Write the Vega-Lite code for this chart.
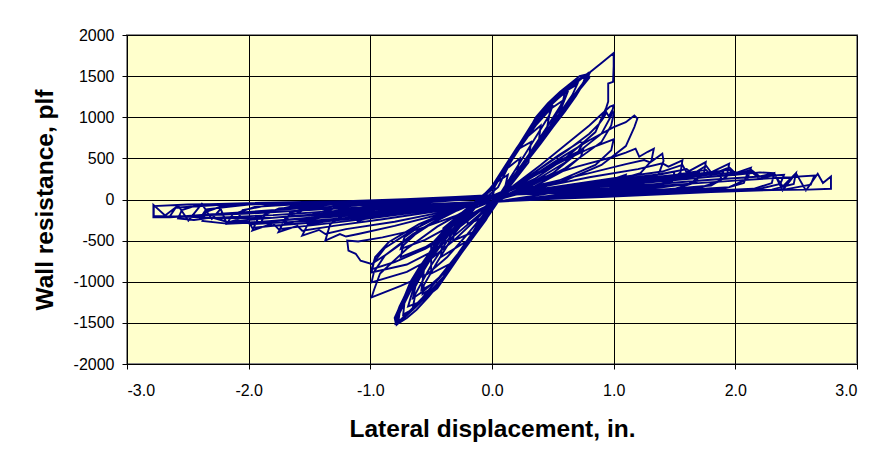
{
"$schema": "https://vega.github.io/schema/vega-lite/v6.json",
"width": 730, "height": 329,
"autosize": {"type": "none"},
"padding": {"left": 127, "top": 35, "right": 24, "bottom": 103},
"background": "white",
"config": {"view": {"fill": "#FFFFCC", "stroke": "#8c8c8c", "strokeWidth": 2}, "font": "Liberation Sans"},
"data": {"values": [
{"d":0,"w":0},
{"d":0.03,"w":200},{"d":0.13,"w":300},{"d":0.1,"w":100},{"d":0.03,"w":-20},{"d":-0.04,"w":-200},{"d":-0.2,"w":-300},{"d":-0.2,"w":-150},{"d":-0.08,"w":10},
{"d":0.1,"w":350},{"d":0.23,"w":500},{"d":0.2,"w":300},{"d":0.08,"w":60},{"d":-0.02,"w":-60},{"d":-0.16,"w":-400},{"d":-0.32,"w":-500},{"d":-0.3,"w":-250},{"d":-0.1,"w":0},
{"d":0.02,"w":150},{"d":0.2,"w":600},{"d":0.32,"w":700},{"d":0.3,"w":450},{"d":0.12,"w":110},{"d":0,"w":-40},{"d":-0.2,"w":-500},{"d":-0.42,"w":-700},{"d":-0.4,"w":-350},{"d":-0.15,"w":-40},
{"d":0.03,"w":180},{"d":0.24,"w":700},{"d":0.4,"w":900},{"d":0.38,"w":650},{"d":0.2,"w":300},{"d":0.05,"w":10},{"d":-0.05,"w":-250},{"d":-0.3,"w":-750},{"d":-0.5,"w":-900},{"d":-0.5,"w":-550},{"d":-0.3,"w":-220},{"d":-0.1,"w":0},
{"d":0.02,"w":170},{"d":0.2,"w":600},{"d":0.38,"w":1000},{"d":0.48,"w":1100},{"d":0.45,"w":850},{"d":0.28,"w":450},{"d":0.08,"w":40},{"d":-0.03,"w":-200},{"d":-0.28,"w":-700},{"d":-0.46,"w":-1000},{"d":-0.58,"w":-1100},{"d":-0.55,"w":-750},{"d":-0.36,"w":-350},{"d":-0.12,"w":-10},
{"d":0.03,"w":180},{"d":0.22,"w":650},{"d":0.4,"w":1060},{"d":0.53,"w":1240},{"d":0.62,"w":1300},{"d":0.54,"w":1000},{"d":0.32,"w":550},{"d":0.07,"w":30},{"d":-0.02,"w":-150},{"d":-0.25,"w":-650},{"d":-0.45,"w":-1080},{"d":-0.6,"w":-1250},{"d":-0.69,"w":-1300},{"d":-0.62,"w":-950},{"d":-0.45,"w":-550},{"d":-0.2,"w":-100},{"d":-0.08,"w":20},
{"d":0.02,"w":200},{"d":0.2,"w":600},{"d":0.38,"w":1020},{"d":0.6,"w":1300},{"d":0.76,"w":1500},{"d":0.8,"w":1530},{"d":0.74,"w":1400},{"d":0.6,"w":1120},{"d":0.42,"w":780},{"d":0.2,"w":330},{"d":0.04,"w":0},{"d":-0.05,"w":-220},{"d":-0.25,"w":-620},{"d":-0.45,"w":-1050},{"d":-0.62,"w":-1300},{"d":-0.78,"w":-1516},{"d":-0.77,"w":-1400},{"d":-0.7,"w":-1130},{"d":-0.55,"w":-750},{"d":-0.35,"w":-330},{"d":-0.1,"w":0},
{"d":0,"w":150},{"d":0.18,"w":560},{"d":0.4,"w":1050},{"d":0.62,"w":1330},{"d":0.78,"w":1525},{"d":0.76,"w":1440},{"d":0.64,"w":1200},{"d":0.46,"w":860},{"d":0.26,"w":450},{"d":0.06,"w":40},{"d":-0.03,"w":-180},{"d":-0.2,"w":-520},{"d":-0.42,"w":-1000},{"d":-0.6,"w":-1260},{"d":-0.77,"w":-1505},{"d":-0.78,"w":-1430},{"d":-0.68,"w":-1050},{"d":-0.5,"w":-650},{"d":-0.3,"w":-280},{"d":-0.08,"w":20},
{"d":0.01,"w":170},{"d":0.22,"w":640},{"d":0.42,"w":1060},{"d":0.64,"w":1360},{"d":0.79,"w":1535},{"d":0.8,"w":1480},{"d":0.7,"w":1300},{"d":0.5,"w":930},{"d":0.3,"w":520},{"d":0.08,"w":60},{"d":-0.04,"w":-200},{"d":-0.22,"w":-560},{"d":-0.44,"w":-1030},{"d":-0.65,"w":-1340},{"d":-0.79,"w":-1510},{"d":-0.8,"w":-1440},{"d":-0.72,"w":-1180},{"d":-0.58,"w":-820},{"d":-0.4,"w":-430},{"d":-0.15,"w":-40},
{"d":0.02,"w":160},{"d":0.15,"w":450},{"d":0.3,"w":800},{"d":0.45,"w":1080},{"d":0.5,"w":1150},{"d":0.47,"w":1020},{"d":0.36,"w":760},{"d":0.2,"w":380},{"d":0.05,"w":30},{"d":-0.05,"w":-200},{"d":-0.2,"w":-520},{"d":-0.38,"w":-860},{"d":-0.52,"w":-1100},{"d":-0.57,"w":-1150},{"d":-0.56,"w":-1040},{"d":-0.45,"w":-760},{"d":-0.3,"w":-400},{"d":-0.1,"w":-30},
{"d":0,"w":140},{"d":0.16,"w":520},{"d":0.33,"w":920},{"d":0.5,"w":1210},{"d":0.66,"w":1400},{"d":0.77,"w":1510},{"d":0.75,"w":1420},{"d":0.66,"w":1230},{"d":0.52,"w":960},{"d":0.34,"w":600},{"d":0.15,"w":200},{"d":0.03,"w":-10},{"d":-0.06,"w":-230},{"d":-0.24,"w":-600},{"d":-0.4,"w":-940},{"d":-0.56,"w":-1200},{"d":-0.7,"w":-1390},{"d":-0.77,"w":-1490},{"d":-0.76,"w":-1380},{"d":-0.66,"w":-1080},{"d":-0.52,"w":-760},{"d":-0.33,"w":-380},{"d":-0.12,"w":-30},
{"d":0.01,"w":150},{"d":0.18,"w":560},{"d":0.34,"w":930},{"d":0.5,"w":1180},{"d":0.6,"w":1300},{"d":0.58,"w":1180},{"d":0.46,"w":900},{"d":0.3,"w":540},{"d":0.1,"w":120},{"d":-0.02,"w":-120},{"d":-0.2,"w":-540},{"d":-0.38,"w":-930},{"d":-0.54,"w":-1180},{"d":-0.65,"w":-1310},{"d":-0.63,"w":-1150},{"d":-0.5,"w":-800},{"d":-0.33,"w":-420},{"d":-0.12,"w":-40},
{"d":0.02,"w":180},{"d":0.2,"w":610},{"d":0.36,"w":980},{"d":0.54,"w":1260},{"d":0.7,"w":1450},{"d":0.79,"w":1520},{"d":0.72,"w":1340},{"d":0.58,"w":1060},{"d":0.4,"w":700},{"d":0.22,"w":340},{"d":0.06,"w":40},{"d":-0.04,"w":-190},{"d":-0.22,"w":-580},{"d":-0.42,"w":-990},{"d":-0.6,"w":-1270},{"d":-0.74,"w":-1450},{"d":-0.79,"w":-1500},{"d":-0.74,"w":-1280},{"d":-0.6,"w":-920},{"d":-0.42,"w":-540},{"d":-0.2,"w":-150},{"d":-0.06,"w":10},
{"d":0.05,"w":150},{"d":0.16,"w":480},{"d":0.28,"w":780},{"d":0.36,"w":1000},{"d":0.46,"w":1170},{"d":0.56,"w":1310},{"d":0.66,"w":1430},{"d":0.72,"w":1500},{"d":0.8,"w":1530},{"d":0.74,"w":1380},{"d":0.68,"w":1250},{"d":0.6,"w":1110},{"d":0.54,"w":1000},{"d":0.46,"w":840},{"d":0.38,"w":660},{"d":0.3,"w":500},{"d":0.2,"w":300},{"d":0.12,"w":130},{"d":0.05,"w":0},{"d":-0.02,"w":-120},{"d":-0.1,"w":-300},{"d":-0.2,"w":-500},{"d":-0.3,"w":-720},{"d":-0.42,"w":-1000},{"d":-0.52,"w":-1180},{"d":-0.62,"w":-1340},{"d":-0.7,"w":-1440},{"d":-0.78,"w":-1516},{"d":-0.79,"w":-1420},{"d":-0.76,"w":-1300},{"d":-0.72,"w":-1180},{"d":-0.67,"w":-1000},{"d":-0.6,"w":-830},{"d":-0.53,"w":-680},{"d":-0.45,"w":-500},{"d":-0.34,"w":-300},{"d":-0.22,"w":-140},{"d":-0.1,"w":0},
{"d":0.02,"w":180},{"d":0.14,"w":420},{"d":0.26,"w":720},{"d":0.38,"w":990},{"d":0.5,"w":1180},{"d":0.62,"w":1330},{"d":0.7,"w":1400},{"d":0.66,"w":1270},{"d":0.58,"w":1100},{"d":0.5,"w":930},{"d":0.4,"w":720},{"d":0.3,"w":520},{"d":0.18,"w":280},{"d":0.07,"w":60},{"d":0,"w":-80},{"d":-0.12,"w":-360},{"d":-0.26,"w":-660},{"d":-0.4,"w":-950},{"d":-0.54,"w":-1180},{"d":-0.66,"w":-1340},{"d":-0.73,"w":-1400},{"d":-0.72,"w":-1260},{"d":-0.66,"w":-1060},{"d":-0.58,"w":-850},{"d":-0.5,"w":-640},{"d":-0.4,"w":-420},{"d":-0.28,"w":-220},{"d":-0.14,"w":-50},
{"d":0,"w":120},{"d":0.12,"w":380},{"d":0.24,"w":650},{"d":0.36,"w":900},{"d":0.48,"w":1100},{"d":0.58,"w":1200},{"d":0.55,"w":1090},{"d":0.48,"w":900},{"d":0.4,"w":710},{"d":0.3,"w":500},{"d":0.18,"w":270},{"d":0.06,"w":40},{"d":-0.02,"w":-110},{"d":-0.14,"w":-380},{"d":-0.28,"w":-680},{"d":-0.42,"w":-930},{"d":-0.56,"w":-1110},{"d":-0.65,"w":-1200},{"d":-0.63,"w":-1060},{"d":-0.56,"w":-860},{"d":-0.47,"w":-640},{"d":-0.36,"w":-420},{"d":-0.22,"w":-190},{"d":-0.1,"w":-20},
{"d":0.03,"w":200},{"d":0.15,"w":470},{"d":0.27,"w":760},{"d":0.4,"w":1020},{"d":0.52,"w":1220},{"d":0.64,"w":1390},{"d":0.74,"w":1490},{"d":0.78,"w":1525},{"d":0.76,"w":1430},{"d":0.69,"w":1260},{"d":0.6,"w":1070},{"d":0.5,"w":880},{"d":0.4,"w":680},{"d":0.28,"w":450},{"d":0.15,"w":220},{"d":0.04,"w":20},{"d":-0.04,"w":-160},{"d":-0.15,"w":-380},{"d":-0.28,"w":-660},{"d":-0.44,"w":-960},{"d":-0.58,"w":-1210},{"d":-0.7,"w":-1390},{"d":-0.78,"w":-1500},{"d":-0.77,"w":-1380},{"d":-0.72,"w":-1200},{"d":-0.64,"w":-980},{"d":-0.55,"w":-740},{"d":-0.44,"w":-500},{"d":-0.3,"w":-260},{"d":-0.15,"w":-70},
{"d":0,"w":160},{"d":0.2,"w":620},{"d":0.4,"w":1040},{"d":0.62,"w":1340},{"d":0.8,"w":1540},{"d":0.9,"w":1660},{"d":1,"w":1780},{"d":1,"w":1620},{"d":0.995,"w":1430},{"d":0.955,"w":1410},{"d":0.955,"w":1190},{"d":0.94,"w":1120},{"d":0.85,"w":820},{"d":0.6,"w":500},{"d":0.35,"w":250},{"d":0.15,"w":110},{"d":0.03,"w":0},
{"d":-0.04,"w":-134},{"d":-0.2,"w":-419},{"d":-0.37,"w":-703},{"d":-0.53,"w":-906},{"d":-0.75,"w":-1049},{"d":-0.99,"w":-1191},{"d":-0.97,"w":-1100},{"d":-0.92,"w":-900},{"d":-0.7,"w":-600},{"d":-0.45,"w":-330},{"d":-0.2,"w":-120},{"d":0.02,"w":30},
{"d":0.17,"w":160},{"d":0.4,"w":420},{"d":0.6,"w":660},{"d":0.8,"w":900},{"d":0.9,"w":1037},{"d":0.97,"w":1130},{"d":1,"w":1146},{"d":0.98,"w":1020},{"d":0.9,"w":800},{"d":0.6,"w":450},{"d":0.3,"w":180},{"d":0.12,"w":60},{"d":0,"w":-20},
{"d":-0.1,"w":-200},{"d":-0.3,"w":-480},{"d":-0.5,"w":-720},{"d":-0.7,"w":-880},{"d":-0.99,"w":-1008},{"d":-0.97,"w":-880},{"d":-0.88,"w":-680},{"d":-0.65,"w":-420},{"d":-0.4,"w":-200},{"d":-0.15,"w":-50},{"d":0.03,"w":20},
{"d":0.15,"w":120},{"d":0.35,"w":330},{"d":0.55,"w":540},{"d":0.72,"w":700},{"d":0.75,"w":690},{"d":0.7,"w":560},{"d":0.5,"w":320},{"d":0.25,"w":120},{"d":0.02,"w":-20},{"d":-0.15,"w":-180},{"d":-0.35,"w":-400},{"d":-0.55,"w":-580},{"d":-0.75,"w":-700},{"d":-0.73,"w":-560},{"d":-0.6,"w":-380},{"d":-0.35,"w":-170},{"d":-0.1,"w":-20},
{"d":0.17,"w":150},{"d":0.4,"w":380},{"d":0.62,"w":600},{"d":0.8,"w":800},{"d":0.88,"w":920},{"d":0.92,"w":1000},{"d":0.94,"w":1060},{"d":0.96,"w":1010},{"d":0.99,"w":1090},{"d":1,"w":1040},{"d":0.98,"w":900},{"d":0.9,"w":700},{"d":0.6,"w":380},{"d":0.3,"w":150},{"d":0.1,"w":40},{"d":-0.02,"w":-30},
{"d":-0.1,"w":-180},{"d":-0.3,"w":-430},{"d":-0.5,"w":-640},{"d":-0.7,"w":-790},{"d":-0.99,"w":-886},{"d":-0.97,"w":-760},{"d":-0.88,"w":-590},{"d":-0.65,"w":-370},{"d":-0.4,"w":-180},{"d":-0.15,"w":-40},{"d":0.03,"w":20},
{"d":0.15,"w":110},{"d":0.35,"w":290},{"d":0.55,"w":470},{"d":0.75,"w":610},{"d":0.73,"w":520},{"d":0.6,"w":360},{"d":0.35,"w":160},{"d":0.1,"w":20},{"d":-0.1,"w":-120},{"d":-0.35,"w":-330},{"d":-0.55,"w":-490},{"d":-0.75,"w":-600},{"d":-0.72,"w":-460},{"d":-0.55,"w":-280},{"d":-0.3,"w":-110},{"d":-0.05,"w":10},
{"d":0.17,"w":140},{"d":0.4,"w":330},{"d":0.6,"w":480},{"d":0.8,"w":620},{"d":1,"w":732},{"d":0.98,"w":600},{"d":0.85,"w":420},{"d":0.55,"w":230},{"d":0.25,"w":90},{"d":0,"w":-20},
{"d":-0.15,"w":-200},{"d":-0.35,"w":-430},{"d":-0.55,"w":-600},{"d":-0.8,"w":-760},{"d":-0.99,"w":-850},{"d":-0.96,"w":-700},{"d":-0.85,"w":-520},{"d":-0.6,"w":-300},{"d":-0.3,"w":-110},{"d":0,"w":20},
{"d":0.17,"w":150},{"d":0.4,"w":350},{"d":0.6,"w":540},{"d":0.8,"w":720},{"d":1,"w":880},{"d":1.1,"w":940},{"d":1.17,"w":1020},{"d":1.195,"w":984},{"d":1.17,"w":880},{"d":1.1,"w":650},{"d":0.9,"w":420},{"d":0.6,"w":230},{"d":0.3,"w":100},{"d":0,"w":-20},
{"d":-0.3,"w":-200},{"d":-0.6,"w":-360},{"d":-0.9,"w":-460},{"d":-1.1,"w":-510},{"d":-1.19,"w":-500},{"d":-1.18,"w":-622},{"d":-1.12,"w":-660},{"d":-1.08,"w":-744},{"d":-0.99,"w":-784},{"d":-0.863,"w":-662},{"d":-0.67,"w":-460},{"d":-0.479,"w":-277},{"d":-0.286,"w":-134},{"d":-0.095,"w":-12},{"d":0.05,"w":40},
{"d":0.3,"w":80},{"d":0.7,"w":170},{"d":1,"w":250},{"d":1.1,"w":300},{"d":1.08,"w":190},{"d":0.9,"w":110},{"d":0.5,"w":40},{"d":0.1,"w":-20},{"d":-0.3,"w":-80},{"d":-0.7,"w":-150},{"d":-1,"w":-220},{"d":-1.1,"w":-260},{"d":-1.05,"w":-150},{"d":-0.8,"w":-70},{"d":-0.4,"w":-20},{"d":0,"w":20},
{"d":0.17,"w":120},{"d":0.4,"w":260},{"d":0.7,"w":400},{"d":1,"w":520},{"d":1.1,"w":570},{"d":1.18,"w":618},{"d":1.21,"w":520},{"d":1.28,"w":580},{"d":1.33,"w":618},{"d":1.31,"w":470},{"d":1.22,"w":320},{"d":0.9,"w":180},{"d":0.5,"w":80},{"d":0.1,"w":-10},{"d":-0.1,"w":-40},
{"d":-0.4,"w":-170},{"d":-0.8,"w":-320},{"d":-1.1,"w":-420},{"d":-1.2,"w":-450},{"d":-1.25,"w":-420},{"d":-1.37,"w":-500},{"d":-1.33,"w":-300},{"d":-1.2,"w":-170},{"d":-0.9,"w":-90},{"d":-0.5,"w":-30},{"d":-0.1,"w":10},{"d":0.1,"w":40},
{"d":0.4,"w":180},{"d":0.8,"w":320},{"d":1.1,"w":430},{"d":1.25,"w":480},{"d":1.3,"w":450},{"d":1.4,"w":557},{"d":1.41,"w":470},{"d":1.37,"w":310},{"d":1.25,"w":200},{"d":0.9,"w":120},{"d":0.5,"w":50},{"d":0.1,"w":-20},{"d":-0.1,"w":-50},
{"d":-0.4,"w":-150},{"d":-0.8,"w":-270},{"d":-1.2,"w":-360},{"d":-1.37,"w":-420},{"d":-1.42,"w":-370},{"d":-1.56,"w":-439},{"d":-1.5,"w":-260},{"d":-1.35,"w":-150},{"d":-1,"w":-80},{"d":-0.6,"w":-30},{"d":-0.2,"w":10},{"d":0.1,"w":40},
{"d":0.4,"w":100},{"d":0.8,"w":180},{"d":1.2,"w":260},{"d":1.5,"w":340},{"d":1.48,"w":220},{"d":1.3,"w":140},{"d":0.9,"w":90},{"d":0.4,"w":20},{"d":0,"w":-30},{"d":-0.4,"w":-90},{"d":-0.8,"w":-160},{"d":-1.2,"w":-230},{"d":-1.5,"w":-300},{"d":-1.47,"w":-180},{"d":-1.25,"w":-90},{"d":-0.8,"w":-40},{"d":-0.3,"w":0},{"d":0,"w":30},
{"d":0.4,"w":150},{"d":0.8,"w":270},{"d":1.2,"w":370},{"d":1.4,"w":440},{"d":1.45,"w":400},{"d":1.565,"w":476},{"d":1.55,"w":330},{"d":1.45,"w":210},{"d":1.2,"w":140},{"d":0.8,"w":80},{"d":0.4,"w":30},{"d":0,"w":-30},
{"d":-0.4,"w":-130},{"d":-0.9,"w":-240},{"d":-1.3,"w":-320},{"d":-1.56,"w":-380},{"d":-1.6,"w":-320},{"d":-1.755,"w":-398},{"d":-1.7,"w":-230},{"d":-1.55,"w":-130},{"d":-1.2,"w":-70},{"d":-0.8,"w":-30},{"d":-0.3,"w":10},{"d":0.1,"w":50},
{"d":0.4,"w":90},{"d":0.9,"w":170},{"d":1.3,"w":240},{"d":1.7,"w":330},{"d":1.68,"w":210},{"d":1.5,"w":130},{"d":1,"w":80},{"d":0.5,"w":20},{"d":0,"w":-30},{"d":-0.5,"w":-90},{"d":-1,"w":-160},{"d":-1.4,"w":-220},{"d":-1.7,"w":-290},{"d":-1.66,"w":-160},{"d":-1.4,"w":-70},{"d":-0.9,"w":-30},{"d":-0.3,"w":10},{"d":0,"w":40},
{"d":0.5,"w":150},{"d":1,"w":260},{"d":1.4,"w":340},{"d":1.565,"w":420},{"d":1.6,"w":330},{"d":1.757,"w":455},{"d":1.74,"w":300},{"d":1.62,"w":190},{"d":1.3,"w":130},{"d":0.9,"w":90},{"d":0.4,"w":30},{"d":0,"w":-30},
{"d":-0.5,"w":-130},{"d":-1,"w":-230},{"d":-1.4,"w":-300},{"d":-1.755,"w":-360},{"d":-1.8,"w":-290},{"d":-1.97,"w":-378},{"d":-1.92,"w":-220},{"d":-1.75,"w":-110},{"d":-1.3,"w":-60},{"d":-0.8,"w":-20},{"d":-0.3,"w":20},{"d":0.1,"w":50},
{"d":0.5,"w":100},{"d":1,"w":180},{"d":1.5,"w":260},{"d":1.9,"w":340},{"d":1.87,"w":220},{"d":1.7,"w":140},{"d":1.2,"w":90},{"d":0.6,"w":30},{"d":0,"w":-20},{"d":-0.5,"w":-80},{"d":-1,"w":-150},{"d":-1.5,"w":-220},{"d":-1.9,"w":-280},{"d":-1.85,"w":-150},{"d":-1.6,"w":-70},{"d":-1,"w":-30},{"d":-0.4,"w":10},{"d":0,"w":40},
{"d":0.5,"w":140},{"d":1,"w":240},{"d":1.4,"w":310},{"d":1.6,"w":370},{"d":1.65,"w":310},{"d":1.76,"w":410},{"d":1.8,"w":330},{"d":1.949,"w":435},{"d":1.93,"w":280},{"d":1.8,"w":170},{"d":1.4,"w":120},{"d":0.9,"w":80},{"d":0.4,"w":20},{"d":0,"w":-30},
{"d":-0.5,"w":-120},{"d":-1,"w":-210},{"d":-1.4,"w":-270},{"d":-1.8,"w":-320},{"d":-1.97,"w":-345},{"d":-2,"w":-270},{"d":-2.18,"w":-296},{"d":-2.13,"w":-180},{"d":-1.95,"w":-90},{"d":-1.5,"w":-50},{"d":-0.9,"w":-10},{"d":-0.3,"w":30},{"d":0.1,"w":60},
{"d":0.5,"w":90},{"d":1,"w":170},{"d":1.6,"w":250},{"d":2.1,"w":320},{"d":2.07,"w":200},{"d":1.9,"w":130},{"d":1.4,"w":90},{"d":0.7,"w":30},{"d":0,"w":-20},{"d":-0.6,"w":-80},{"d":-1.2,"w":-150},{"d":-1.7,"w":-210},{"d":-2.1,"w":-260},{"d":-2.05,"w":-130},{"d":-1.8,"w":-60},{"d":-1.1,"w":-30},{"d":-0.4,"w":10},{"d":0,"w":40},
{"d":0.5,"w":130},{"d":1,"w":220},{"d":1.5,"w":300},{"d":1.76,"w":360},{"d":1.8,"w":300},{"d":1.95,"w":390},{"d":2,"w":320},{"d":2.128,"w":387},{"d":2.1,"w":250},{"d":1.95,"w":150},{"d":1.5,"w":110},{"d":0.9,"w":70},{"d":0.4,"w":15},{"d":0,"w":-30},
{"d":-0.5,"w":-110},{"d":-1,"w":-200},{"d":-1.5,"w":-260},{"d":-1.97,"w":-300},{"d":-2.1,"w":-250},{"d":-2.2,"w":-290},{"d":-2.38,"w":-260},{"d":-2.35,"w":-150},{"d":-2.2,"w":-70},{"d":-1.8,"w":-40},{"d":-1.2,"w":-20},{"d":-0.6,"w":10},{"d":0,"w":50},
{"d":0.6,"w":90},{"d":1.2,"w":170},{"d":1.8,"w":240},{"d":2.4,"w":300},{"d":2.37,"w":190},{"d":2.2,"w":130},{"d":1.6,"w":90},{"d":0.8,"w":30},{"d":0,"w":-20},{"d":-0.6,"w":-70},{"d":-1.2,"w":-130},{"d":-1.8,"w":-190},{"d":-2.4,"w":-230},{"d":-2.35,"w":-120},{"d":-2,"w":-60},{"d":-1.2,"w":-30},{"d":-0.4,"w":10},{"d":0,"w":40},
{"d":0.5,"w":120},{"d":1,"w":210},{"d":1.5,"w":280},{"d":1.95,"w":360},{"d":2,"w":300},{"d":2.13,"w":360},{"d":2.2,"w":280},{"d":2.32,"w":321},{"d":2.3,"w":200},{"d":2.15,"w":130},{"d":1.7,"w":100},{"d":1,"w":60},{"d":0.4,"w":10},{"d":0,"w":-30},
{"d":-0.5,"w":-100},{"d":-1,"w":-180},{"d":-1.6,"w":-240},{"d":-2,"w":-280},{"d":-2.18,"w":-270},{"d":-2.3,"w":-220},{"d":-2.45,"w":-250},{"d":-2.58,"w":-230},{"d":-2.55,"w":-130},{"d":-2.4,"w":-60},{"d":-1.9,"w":-40},{"d":-1.2,"w":-20},{"d":-0.5,"w":10},{"d":0,"w":50},
{"d":0.6,"w":80},{"d":1.3,"w":160},{"d":2,"w":230},{"d":2.65,"w":290},{"d":2.62,"w":180},{"d":2.4,"w":120},{"d":1.8,"w":90},{"d":0.9,"w":30},{"d":0,"w":-20},{"d":-0.7,"w":-70},{"d":-1.4,"w":-120},{"d":-2,"w":-170},{"d":-2.65,"w":-210},{"d":-2.6,"w":-100},{"d":-2.2,"w":-60},{"d":-1.3,"w":-30},{"d":-0.4,"w":10},{"d":0,"w":40},
{"d":0.5,"w":110},{"d":1,"w":190},{"d":1.5,"w":260},{"d":2,"w":330},{"d":2.13,"w":340},{"d":2.2,"w":250},{"d":2.32,"w":300},{"d":2.39,"w":160},{"d":2.498,"w":321},{"d":2.48,"w":190},{"d":2.3,"w":120},{"d":1.8,"w":100},{"d":1.1,"w":60},{"d":0.4,"w":0},{"d":0,"w":-30},
{"d":-0.5,"w":-90},{"d":-1,"w":-160},{"d":-1.5,"w":-220},{"d":-1.96,"w":-280},{"d":-2.18,"w":-296},{"d":-2.23,"w":-114},{"d":-2.303,"w":-236},{"d":-2.385,"w":-53},{"d":-2.496,"w":-256},{"d":-2.58,"w":-73},{"d":-2.687,"w":-195},{"d":-2.783,"w":-65},{"d":-2.783,"w":-216},{"d":-2.646,"w":-216},{"d":-2.5,"w":-200},{"d":-2.3,"w":-180},{"d":-2,"w":-150},{"d":-1.6,"w":-110},{"d":-1.2,"w":-80},{"d":-0.8,"w":-50},{"d":-0.3,"w":0},{"d":0,"w":40},
{"d":0.5,"w":100},{"d":1,"w":170},{"d":1.5,"w":240},{"d":2,"w":300},{"d":2.2,"w":330},{"d":2.32,"w":321},{"d":2.388,"w":110},{"d":2.498,"w":321},{"d":2.58,"w":110},{"d":2.677,"w":313},{"d":2.72,"w":200},{"d":2.786,"w":280},{"d":2.786,"w":130},{"d":2.6,"w":120},{"d":2.3,"w":115},{"d":2,"w":105},{"d":1.5,"w":80},{"d":1,"w":50},{"d":0.5,"w":10},{"d":0,"w":-20},
{"d":-0.5,"w":-100},{"d":-1.2,"w":-170},{"d":-1.8,"w":-220},{"d":-2.2,"w":-230},{"d":-2.5,"w":-210},{"d":-2.78,"w":-200},{"d":-2.78,"w":-80},{"d":-2.5,"w":-60},{"d":-2,"w":-50},{"d":-1,"w":-30},{"d":0,"w":20}
]},
"mark": {"type": "line", "color": "#000080", "strokeWidth": 1.9, "clip": true},
"encoding": {
  "x": {"field": "d", "type": "quantitative",
        "scale": {"domain": [-3, 3], "nice": false, "zero": false},
        "axis": {"values": [-3, -2, -1, 0, 1, 2, 3], "format": ".1f", "labelExpr": "replace(datum.label, '\u2212', '-')",
                 "title": "Lateral displacement, in.", "grid": true, "gridColor": "#000000", "gridOpacity": 1, "gridWidth": 1,
                 "domainColor": "#000000", "tickColor": "#000000", "tickSize": 5, "labelFontSize": 16, "labelColor": "#000000",
                 "labelPadding": 13, "labelFont": "Liberation Sans", "titleFont": "Liberation Sans", "titleFontSize": 24.5, "titleFontWeight": "bold", "titleColor": "#000000", "titlePadding": 19}},
  "y": {"field": "w", "type": "quantitative",
        "scale": {"domain": [-2000, 2000], "nice": false, "zero": false},
        "axis": {"values": [-2000, -1500, -1000, -500, 0, 500, 1000, 1500, 2000], "format": "d", "labelExpr": "replace(datum.label, '\u2212', '-')",
                 "title": "Wall resistance, plf", "grid": true, "gridColor": "#000000", "gridOpacity": 1, "gridWidth": 1,
                 "domainColor": "#000000", "tickColor": "#000000", "tickSize": 5, "labelFontSize": 16, "labelColor": "#000000",
                 "labelPadding": 8, "labelFont": "Liberation Sans", "titleFont": "Liberation Sans", "titleFontSize": 24.5, "titleFontWeight": "bold", "titleColor": "#000000", "titlePadding": 16}},
  "order": {"value": null}
}
}
